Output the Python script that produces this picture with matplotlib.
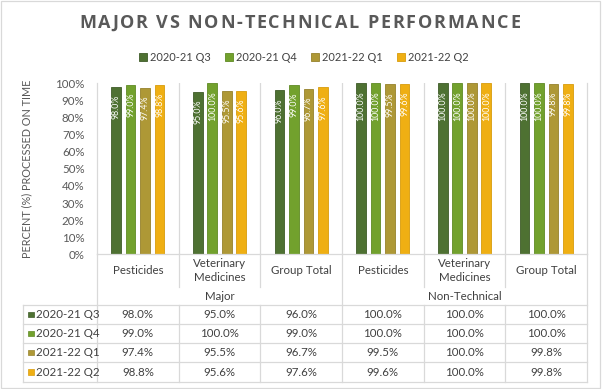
import matplotlib
matplotlib.use("Agg")
import matplotlib.pyplot as plt
from matplotlib.patches import Patch, Rectangle
from matplotlib.lines import Line2D
from matplotlib.transforms import blended_transform_factory
import numpy as np

# ---------------- data ----------------
categories = ["Pesticides", "Veterinary\nMedicines", "Group Total",
              "Pesticides", "Veterinary\nMedicines", "Group Total"]
groups = ["Major", "Non-Technical"]
series_names = ["2020-21 Q3", "2020-21 Q4", "2021-22 Q1", "2021-22 Q2"]
q3_2020 = [98.0, 95.0, 96.0, 100.0, 100.0, 100.0]
q4_2020 = [99.0, 100.0, 99.0, 100.0, 100.0, 100.0]
q1_2021 = [97.4, 95.5, 96.7, 99.5, 100.0, 99.8]
q2_2021 = [98.8, 95.6, 97.6, 99.6, 100.0, 99.8]
series_values = [q3_2020, q4_2020, q1_2021, q2_2021]
colors = ["#4E7132", "#72A12D", "#AE9836", "#EFAF13"]
edge_colors = ["#3F5C28", "#5F8A24", "#96822C", "#D89C0C"]
yticks = list(range(0, 101, 10))

W, H = 602, 389
FONT = "Lato"
TXT = "#404040"
GRID = "#D9D9D9"

fig = plt.figure(figsize=(W / 100, H / 100), dpi=100)
fig.patch.set_facecolor("white")

def fx(px):
    return px / W

def fy(py):
    return 1 - py / H

# plot area
ax_left, ax_right, ax_top, ax_bot = 97, 587, 83.3, 254.3
ax = fig.add_axes([fx(ax_left), fy(ax_bot), fx(ax_right - ax_left), (ax_bot - ax_top) / H])
ncat = len(categories)
x = np.arange(ncat)
step = 0.178
width = 0.118
for i, (vals, c, ec) in enumerate(zip(series_values, colors, edge_colors)):
    off = (i - 1.5) * step
    ax.bar(x + off, vals, width, color=c, edgecolor=ec, linewidth=0.6)
    for xi, v in zip(x, vals):
        ax.text(xi + off, v - 4.6, f"{v:.1f}%", rotation=90, ha="center", va="top",
                color="white", fontsize=6.3, family=FONT)

ax.set_xlim(-0.5, ncat - 0.5)
ax.set_ylim(0, 100)
ax.set_yticks(yticks)
ax.set_yticklabels([f"{t}%" for t in yticks], family=FONT, fontsize=8.3, color="#595959")
ax.tick_params(axis="y", length=0, pad=9)
ax.set_xticks([])
for i in range(ncat - 1):
    ax.axvline(i + 0.5, color=GRID, lw=0.9, zorder=0)
ax.spines["top"].set_visible(False)
for s in ["left", "right", "bottom"]:
    ax.spines[s].set_color(GRID)
    ax.spines[s].set_linewidth(0.9)

fig.text(fx(27), fy((ax_top + ax_bot) / 2), "PERCENT (%) PROCESSED ON TIME", rotation=90,
         ha="center", va="center", family=FONT, fontsize=7.8, color="#595959")

# ---------------- title with letter spacing ----------------
title = "MAJOR VS NON-TECHNICAL PERFORMANCE"
tkw = dict(family="Open Sans", fontweight="bold", fontsize=13, color="#595959")
renderer = fig.canvas.get_renderer()

def tw(s):
    t = fig.text(0, 0, s, **tkw)
    w = t.get_window_extent(renderer).width
    t.remove()
    return w

space_w = tw("A A") - tw("AA")
widths = [space_w if ch == " " else tw(ch) for ch in title]
target_left, target_right = 79, 520
spacing = (target_right - target_left - sum(widths)) / (len(title) - 1)
cur = target_left
for ch, w in zip(title, widths):
    if ch != " ":
        fig.text(fx(cur), fy(23), ch, ha="left", va="center", **tkw)
    cur += w + spacing

# ---------------- legend ----------------
handles = [Patch(facecolor=c, edgecolor=ec, linewidth=0.6) for c, ec in zip(colors, edge_colors)]
fig.legend(handles, series_names, loc="center", bbox_to_anchor=(fx(304), fy(57.5)), ncol=4,
           frameon=False, handlelength=0.7, handleheight=0.7, handletextpad=0.3,
           columnspacing=1.3, prop=dict(family=FONT, size=7.9), labelcolor=TXT)

# ---------------- data table ----------------
bt = blended_transform_factory(ax.transData, fig.transFigure)

def vline(xd, y0, y1):
    fig.add_artist(Line2D([xd, xd], [fy(y0), fy(y1)], transform=bt, color=GRID, lw=0.9))

def hline(x0px, y):
    fig.add_artist(Line2D([fx(x0px), fx(ax_right)], [fy(y), fy(y)], transform=fig.transFigure,
                          color=GRID, lw=0.9))

row_lines = [305, 324, 343, 362, 382]
for b in np.arange(-0.5, ncat, 1.0):
    major = abs(b - (-0.5)) < 1e-6 or abs(b - (ncat - 0.5)) < 1e-6 or abs(b - 2.5) < 1e-6
    if major:
        vline(b, ax_bot, 382)
    else:
        vline(b, ax_bot, 287)
        vline(b, 305, 382)
fig.add_artist(Line2D([fx(23), fx(23)], [fy(305), fy(382)], transform=fig.transFigure,
                      color=GRID, lw=0.9))
for y in row_lines:
    hline(23, y)

# category labels
for xi, cat in zip(x, categories):
    fig.text(xi, fy(270.5), cat, transform=bt, ha="center", va="center", family=FONT,
             fontsize=8.3, color=TXT, linespacing=1.25)
# group labels
for gi, g in enumerate(groups):
    fig.text(gi * 3 + 1, fy(296), g, transform=bt, ha="center", va="center", family=FONT,
             fontsize=8.3, color=TXT)

# rows
row_centers = [314.5, 333.5, 352.5, 372]
for name, vals, c, ec, yc in zip(series_names, series_values, colors, edge_colors, row_centers):
    fig.add_artist(Rectangle((fx(28), fy(yc + 2.8)), fx(5.6), 5.6 / H, transform=fig.transFigure,
                             facecolor=c, edgecolor=ec, lw=0.5))
    fig.text(fx(36), fy(yc), name, ha="left", va="center", family=FONT, fontsize=8.3, color=TXT)
    for xi, v in zip(x, vals):
        fig.text(xi, fy(yc), f"{v:.1f}%", transform=bt, ha="center", va="center",
                 family=FONT, fontsize=8.3, color=TXT)

# chart border
fig.add_artist(Rectangle((fx(1), fy(387.5)), fx(599), 386.5 / H, transform=fig.transFigure,
                         fill=False, edgecolor=GRID, lw=0.9))

fig.savefig("out.png", dpi=100, facecolor="white")
